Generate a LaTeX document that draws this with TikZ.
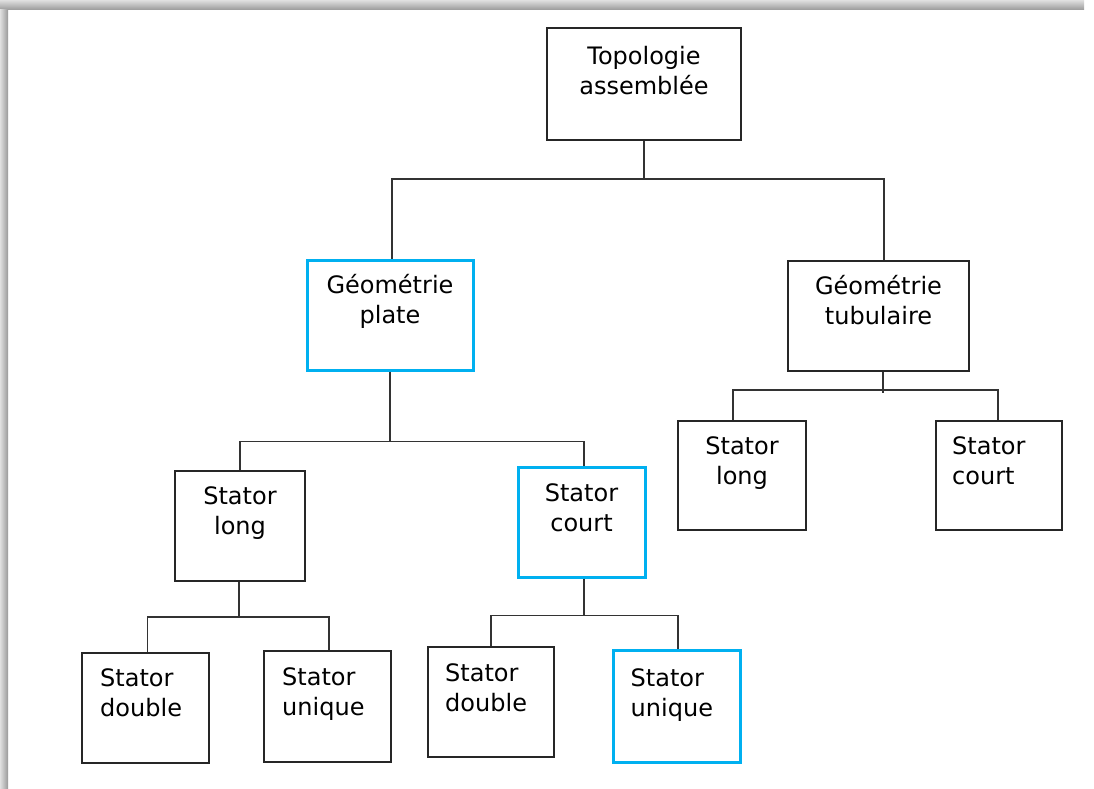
\documentclass[tikz,border=0pt]{standalone}
\usepackage{fontspec}
\setmainfont{DejaVu Sans}
\definecolor{selblue}{RGB}{0,176,240}

\begin{document}
\begin{tikzpicture}[x=1pt, y=-1pt,
    box/.style={draw=black!85, line width=2pt, inner sep=0pt},
    sel/.style={box, draw=selblue, line width=3pt},
    txt/.style={align=center, inner sep=0pt, font=\fontsize{24}{30}\selectfont},
    link/.style={draw=black!80, line width=1.8pt}]
    \useasboundingbox (0,0) rectangle (1094,789);
    \shade[top color=black!12, bottom color=black!40] (0,0) rectangle (1084,10);
    \shade[left color=black!12, right color=black!40] (0,10) rectangle (8,789);

    % boxes
    \node[box, minimum width=194pt, minimum height=112pt] (topo) at (644,84) {};
    \node[sel, minimum width=166pt, minimum height=110pt] (plate) at (390,315) {};
    \node[box, minimum width=181pt, minimum height=110pt] (tube) at (878.5,316) {};
    \node[box, minimum width=130pt, minimum height=110pt] (longL) at (240,526) {};
    \node[sel, minimum width=127pt, minimum height=110pt] (courtL) at (581.5,522) {};
    \node[box, minimum width=128pt, minimum height=109pt] (longR) at (742,475.5) {};
    \node[box, minimum width=126pt, minimum height=109pt] (courtR) at (999,475.5) {};
    \node[box, minimum width=127pt, minimum height=110pt] (dblL) at (145.5,708) {};
    \node[box, minimum width=127pt, minimum height=111pt] (uniL) at (327.5,706.5) {};
    \node[box, minimum width=126pt, minimum height=110pt] (dblR) at (491,702) {};
    \node[sel, minimum width=127pt, minimum height=112pt] (uniR) at (676.5,706) {};

    % texts (base = second line)
    \node[txt, anchor=base] (topo-t) at ([yshift=-68pt]topo.north) {Topologie\\assemblée};
    \node[txt, anchor=base] (plate-t) at ([yshift=-65pt]plate.north) {Géométrie\\plate};
    \node[txt, anchor=base] (tube-t) at ([yshift=-64pt]tube.north) {Géométrie\\tubulaire};
    \node[txt, anchor=base] (longL-t) at ([yshift=-64pt]longL.north) {Stator\\long};
    \node[txt, anchor=base] (courtL-t) at ([yshift=-66pt]courtL.north) {Stator\\court};
    \node[txt, anchor=base] (longR-t) at ([yshift=-64pt]longR.north) {Stator\\long};
    \node[txt, align=left, anchor=base west] (courtR-t) at ([xshift=17pt, yshift=-64pt]courtR.north west) {Stator\\court};
    \node[txt, align=left, anchor=base west] (dblL-t) at ([xshift=19pt, yshift=-64pt]dblL.north west) {Stator\\double};
    \node[txt, align=left, anchor=base west] (uniL-t) at ([xshift=19pt, yshift=-65pt]uniL.north west) {Stator\\unique};
    \node[txt, align=left, anchor=base west] (dblR-t) at ([xshift=18pt, yshift=-65pt]dblR.north west) {Stator\\double};
    \node[txt, align=left, anchor=base west] (uniR-t) at ([xshift=19pt, yshift=-68pt]uniR.north west) {Stator\\unique};

    % links
    \draw[link] (topo.south) -- ++(0,38) coordinate (j0);
    \draw[link] ([xshift=2pt]plate.north) |- (j0) -| ([xshift=5.5pt]tube.north);

    \draw[link] (plate.south) -- ++(0,70) coordinate (j1);
    \draw[link] (longL.north) |- (j1) -| ([xshift=2.5pt]courtL.north);

    \draw[link] ([xshift=4.5pt]tube.south) -- ++(0,21);
    \draw[link] ([xshift=-9pt]longR.north) |- ([xshift=4.5pt, yshift=-18pt]tube.south)
        -| ([xshift=-1pt]courtR.north);

    \draw[link] ([xshift=-1pt]longL.south) -- ++(0,35) coordinate (j3);
    \draw[link] ([xshift=2pt]dblL.north) |- (j3) -| ([xshift=1.5pt]uniL.north);

    \draw[link] ([xshift=2.5pt]courtL.south) -- ++(0,37) coordinate (j4);
    \draw[link] (dblR.north) |- (j4) -| ([xshift=1.5pt]uniR.north);
\end{tikzpicture}
\end{document}
